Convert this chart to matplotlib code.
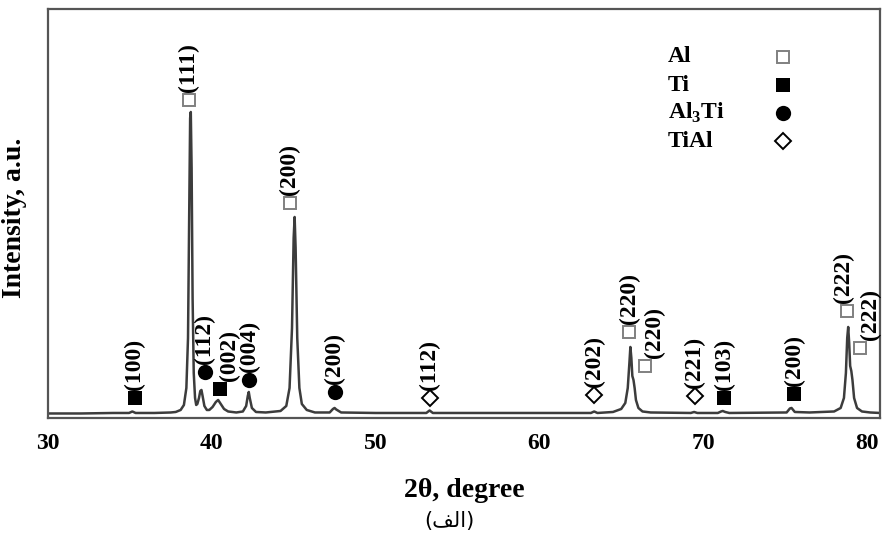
import matplotlib
matplotlib.use("Agg")
import matplotlib.pyplot as plt

# traced XRD pattern (2theta, intensity in a.u.)
two_theta = [30.0, 32.0, 34.0, 34.95, 35.15, 35.35, 36.5, 37.5, 37.8, 38.1, 38.3, 38.45,
             38.55, 38.62, 38.68, 38.72, 38.77, 38.83, 38.9, 38.98, 39.05, 39.12, 39.22,
             39.3, 39.37, 39.44, 39.55, 39.7, 39.85, 40.05, 40.25, 40.39, 40.55, 40.75,
             41.0, 41.5, 41.9, 42.1, 42.2, 42.26, 42.32, 42.45, 42.7, 43.3, 44.2, 44.55,
             44.75, 44.9, 45.0, 45.06, 45.12, 45.22, 45.35, 45.5, 45.8, 46.3, 47.2, 47.4,
             47.5, 47.6, 47.9, 50.0, 53.1, 53.3, 53.5, 58.0, 63.15, 63.35, 63.55, 64.5,
             65.0, 65.25, 65.4, 65.5, 65.56, 65.62, 65.68, 65.75, 65.82, 65.9, 66.05, 66.3,
             66.8, 69.25, 69.45, 69.65, 70.9, 71.1, 71.2, 71.35, 71.6, 75.1, 75.3, 75.4,
             75.6, 76.5, 78.0, 78.4, 78.6, 78.72, 78.8, 78.86, 78.92, 78.98, 79.05, 79.12,
             79.22, 79.4, 79.7, 80.2, 80.8]
intensity = [4.5, 4.5, 5, 5, 6.5, 5, 5, 5.5, 6, 8, 13, 30,
             80, 200, 300, 306, 250, 120, 45, 20, 13, 14, 20,
             27, 28, 22, 12, 8, 8, 11, 16, 18, 14, 9,
             6.5, 5.5, 6.5, 12, 22, 26, 20, 10, 6, 5.5, 7, 12,
             30, 90, 180, 201, 170, 80, 30, 14, 8, 5.5, 5.5, 9,
             10, 8.5, 5.5, 5, 5, 7.5, 5, 5, 5, 6.5, 5, 6,
             9, 15, 30, 55, 71, 60, 42, 38, 30, 18, 10, 6.5,
             5.5, 5, 6, 5, 5, 6.5, 7, 6, 5, 5.5, 9.5, 10,
             6, 5.5, 6.5, 10, 20, 45, 80, 91, 75, 52, 47, 38,
             20, 10, 6.5, 5.5, 5]

# phase markers
al_pos = [38.6, 44.76, 65.5, 66.45, 78.8, 79.6]
al_int = [318, 215, 86, 52, 107, 70]
al_hkl = ["(111)", "(200)", "(220)", "(220)", "(222)", "(222)"]

ti_pos = [35.3, 40.5, 71.3, 75.55]
ti_int = [20, 29, 20, 24]
ti_hkl = ["(100)", "(002)", "(103)", "(200)"]

al3ti_pos = [39.57, 42.3, 47.5]
al3ti_int = [46, 38, 26]
al3ti_hkl = ["(112)", "(004)", "(200)"]

tial_pos = [53.3, 63.35, 69.5]
tial_int = [20, 23, 22]
tial_hkl = ["(112)", "(202)", "(221)"]

legend_names = ["Al", "Ti", "Al$_{\\mathrm{3}}$Ti", "TiAl"]

plt.rcParams["font.family"] = ["Liberation Serif", "DejaVu Sans"]
plt.rcParams["font.weight"] = "bold"
plt.rcParams["mathtext.fontset"] = "custom"
plt.rcParams["mathtext.rm"] = "Liberation Serif:bold"

fig = plt.figure(figsize=(8.82, 5.41), dpi=100)
ax = fig.add_axes([0.0544, 0.2274, 0.9433, 0.756])

ax.plot(two_theta, intensity, color="#3c3c3c", lw=1.8)

styles = [
    dict(marker="s", mfc="white", mec="#808080", mew=1.4, ms=9),
    dict(marker="s", mfc="black", mec="black", mew=0, ms=10),
    dict(marker="o", mfc="black", mec="black", mew=0, ms=11),
    dict(marker="D", mfc="white", mec="black", mew=1.4, ms=8),
]
phases = [
    (al_pos, al_int, al_hkl, [0, 0, 0, 7, -3, 7]),
    (ti_pos, ti_int, ti_hkl, [0, 7, 0, 0]),
    (al3ti_pos, al3ti_int, al3ti_hkl, [0, 0, 0]),
    (tial_pos, tial_int, tial_hkl, [0, 0, 0]),
]

for (pos, inten, hkl, shift), st in zip(phases, styles):
    ax.plot(pos, inten, ls="none", **st)
    for x, y, lab, dx in zip(pos, inten, hkl, shift):
        ax.annotate(lab, xy=(x, y), xytext=(dx, 6), textcoords="offset points",
                    rotation=90, ha="center", va="bottom", fontsize=17,
                    fontweight="bold")

# legend drawn by hand: text left aligned, markers on the right
for i, (name, st) in enumerate(zip(legend_names, styles)):
    yy = 0.883 - i * 0.069
    ax.text(0.745, yy, name, transform=ax.transAxes, fontsize=17,
            fontweight="bold", va="center", ha="left")
    ax.plot(0.883, yy, transform=ax.transAxes, ls="none", **st)

ax.set_xlim(30, 80.8)
ax.set_ylim(0, 409)
ax.set_xticks([30, 40, 50, 60, 70, 80])
ax.set_yticks([])
ax.tick_params(axis="x", length=0, pad=11, labelsize=17)
for lab in ax.get_xticklabels():
    lab.set_fontweight("bold")

for sp in ax.spines.values():
    sp.set_color("#555555")
    sp.set_linewidth(1.6)

ax.set_xlabel("2θ, degree", fontsize=20, fontweight="bold", labelpad=17)
ax.set_ylabel("Intensity, a.u.", fontsize=20, fontweight="bold")
ax.yaxis.set_label_coords(-0.025, 0.49)

# caption "(الف)" in visual order with presentation forms
fig.text(0.51, 0.037, "(\ufed2\ufedf\ufe8d)", family=["DejaVu Sans"],
         fontsize=15, fontweight="normal", ha="center", va="center")

fig.savefig("out.png", dpi=100)
